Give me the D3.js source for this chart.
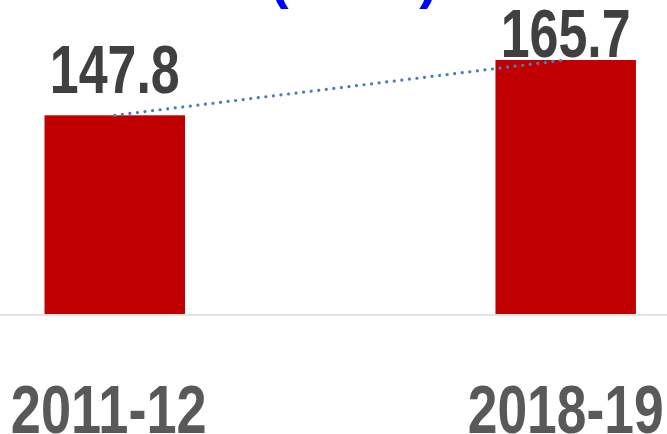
<!DOCTYPE html>
<html>
<head>
<meta charset="utf-8">
<script src="https://cdn.jsdelivr.net/npm/d3@7"></script>
<style>
  html, body { margin: 0; padding: 0; background: #fff; }
  svg { display: block; }
</style>
</head>
<body>
<svg id="chart" width="667" height="434"></svg>
<script>
// Values per year
const years = ["2011-12", "2018-19"];
const values = [147.8, 165.7];
const valueLabels = ["147.8", "165.7"];
const titleText = "(Lakh)";

const W = 667, H = 434;
const svg = d3.select("#chart");

// Bold sans, squeezed horizontally to a narrow face
const labelFont = "'Liberation Sans', Arial, sans-serif";

const x = d3.scaleBand()
  .domain(years)
  .range([0, W])
  .paddingInner(0.6885)
  .paddingOuter(0.0838)
  .align(0.589);

const y = d3.scaleLinear()
  .domain([83.5, 165.7])
  .range([314, 60]);

// Title (only its lower part falls inside the frame)
svg.append("text")
  .attr("x", 354)
  .attr("y", -3)
  .attr("text-anchor", "middle")
  .attr("font-family", "'Liberation Sans', Arial, sans-serif")
  .attr("font-weight", "bold")
  .attr("font-size", 56)
  .attr("fill", "#0000FF")
  .text(titleText);

// Bars
svg.append("g").selectAll("rect")
  .data(values)
  .join("rect")
  .attr("x", (d, i) => x(years[i]))
  .attr("width", x.bandwidth())
  .attr("y", d => y(d))
  .attr("height", d => y.range()[0] - y(d))
  .attr("fill", "#C00000");

// Category axis line
svg.append("line")
  .attr("x1", 0).attr("x2", W)
  .attr("y1", 315).attr("y2", 315)
  .attr("stroke", "#D9D9D9")
  .attr("stroke-width", 1.5);

// Linear trend between the two years (dotted)
const trend = d3.line()
  .x((d, i) => x(years[i]) + x.bandwidth() / 2)
  .y(d => y(d));
svg.append("path")
  .datum(values)
  .attr("d", trend)
  .attr("fill", "none")
  .attr("stroke", "#4A7EBB")
  .attr("stroke-width", 3.2)
  .attr("stroke-linecap", "round")
  .attr("stroke-dasharray", "0.01 7.6");

// Value labels above bars
const labelGap = [22.6, 3.3];
svg.append("g").selectAll("text")
  .data(values)
  .join("text")
  .attr("x", (d, i) => x(years[i]) + x.bandwidth() / 2)
  .attr("y", (d, i) => y(d) - labelGap[i])
  .attr("text-anchor", "middle")
  .attr("font-family", labelFont)
  .attr("font-weight", "bold")
  .attr("font-size", 68)
  .attr("textLength", 130)
  .attr("lengthAdjust", "spacingAndGlyphs")
  .attr("fill", "#404040")
  .text((d, i) => valueLabels[i]);

// Category labels
const catShift = [-6, 0];
svg.append("g").selectAll("text")
  .data(years)
  .join("text")
  .attr("x", (d, i) => x(d) + x.bandwidth() / 2 + catShift[i])
  .attr("y", 433)
  .attr("text-anchor", "middle")
  .attr("font-family", labelFont)
  .attr("font-weight", "bold")
  .attr("font-size", 68)
  .attr("textLength", 196)
  .attr("lengthAdjust", "spacingAndGlyphs")
  .attr("fill", "#595959")
  .text(d => d);
</script>
</body>
</html>
